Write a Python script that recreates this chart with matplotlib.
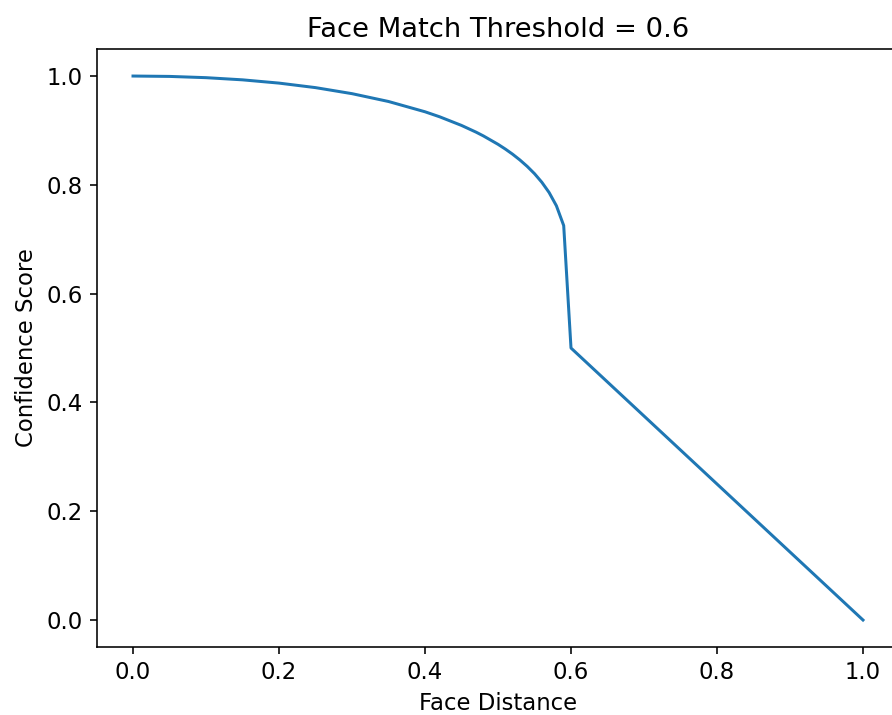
import matplotlib
matplotlib.use('Agg')
import matplotlib.pyplot as plt

# face distance vs confidence
distance = [0.0, 0.05, 0.10, 0.15, 0.20, 0.25, 0.30, 0.35, 0.40, 0.42,
            0.45, 0.47, 0.48, 0.50, 0.51, 0.52, 0.53, 0.54, 0.55, 0.56,
            0.57, 0.58, 0.59, 0.60, 1.0]
confidence = [1.0, 0.9993, 0.9970, 0.9930, 0.9870, 0.9787, 0.9676, 0.9532,
              0.9343, 0.9251, 0.9092, 0.8968, 0.8899, 0.8745, 0.8658,
              0.8563, 0.8457, 0.8339, 0.8205, 0.8048, 0.7859, 0.7615,
              0.7251, 0.5, 0.0]
threshold = 0.6


def main():
    plt.rcParams['font.size'] = 11.4
    fig = plt.figure(figsize=(892 / 144, 715 / 144), dpi=144)
    ax = fig.add_axes([0.1082, 0.0948, 0.9002, 0.8369])
    ax.plot(distance, confidence)
    ax.set_title(f'Face Match Threshold = {threshold}')
    ax.set_xlabel('Face Distance')
    ax.set_ylabel('Confidence Score')
    fig.savefig('out.png', dpi=144)


if __name__ == '__main__':
    main()
